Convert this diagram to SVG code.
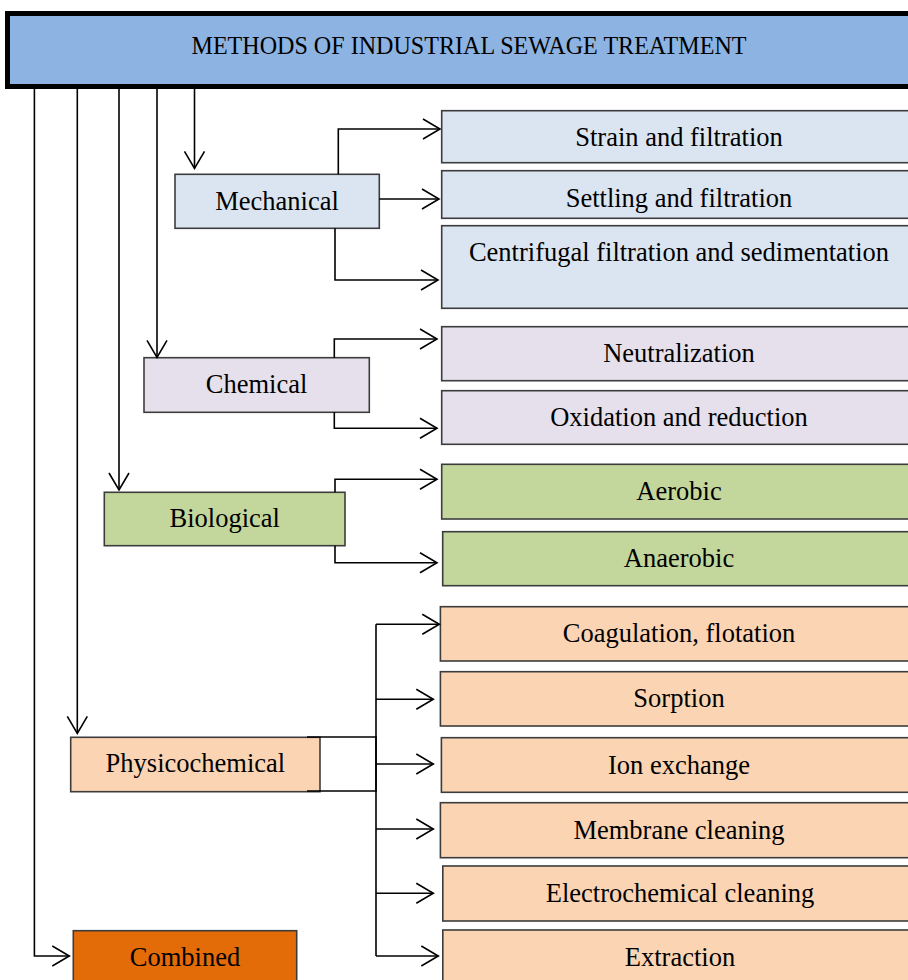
<svg xmlns="http://www.w3.org/2000/svg" width="908" height="980" viewBox="0 0 908 980">
<defs>
<style>
text{font-family:"Liberation Serif","Times New Roman",serif;fill:#000;text-anchor:middle}
.t{font-size:26.5px}
.h{font-size:25.5px}
.box{stroke:#3c3c3c;stroke-width:1.6}
.mech{fill:#DBE5F1}
.chem{fill:#E5E0EC}
.bio{fill:#C3D69B}
.phys{fill:#FBD4B4}
.comb{fill:#E36C09}
.c{fill:none;stroke:#000;stroke-width:1.6}
</style>
<marker id="arr" markerUnits="userSpaceOnUse" markerWidth="40" markerHeight="40" viewBox="-20 -20 40 40" refX="0" refY="0" orient="auto">
<path d="M-17,-10 L0,0 L-17,10" fill="none" stroke="#000" stroke-width="1.6"/>
</marker>
</defs>
<rect width="908" height="980" fill="#fff"/>

<g id="header">
<rect x="7.5" y="13.5" width="950" height="73" fill="#8DB3E2" stroke="#000" stroke-width="5"/>
<text class="h" x="469" y="54" textLength="555" lengthAdjust="spacingAndGlyphs">METHODS OF INDUSTRIAL SEWAGE TREATMENT</text>
</g>

<g id="mechanical">
<rect class="box mech" x="175" y="174.3" width="204.3" height="54"/>
<text class="t" x="277" y="210">Mechanical</text>
</g>
<g id="strain">
<rect class="box mech" x="441.7" y="110.7" width="490" height="52"/>
<text class="t" x="679" y="146">Strain and filtration</text>
</g>
<g id="settling">
<rect class="box mech" x="441.7" y="170.7" width="490" height="47.6"/>
<text class="t" x="679" y="206.5">Settling and filtration</text>
</g>
<g id="centrifugal">
<rect class="box mech" x="441.7" y="225.7" width="490" height="82.6"/>
<text class="t" x="679" y="261">Centrifugal filtration and sedimentation</text>
</g>

<g id="chemical">
<rect class="box chem" x="144" y="357.7" width="225.3" height="54.6"/>
<text class="t" x="256.5" y="393">Chemical</text>
</g>
<g id="neutralization">
<rect class="box chem" x="441.7" y="326.7" width="490" height="54"/>
<text class="t" x="679" y="362">Neutralization</text>
</g>
<g id="oxidation">
<rect class="box chem" x="441.7" y="390.7" width="490" height="53.6"/>
<text class="t" x="679" y="426">Oxidation and reduction</text>
</g>

<g id="biological">
<rect class="box bio" x="104.3" y="492.3" width="240.7" height="53.4"/>
<text class="t" x="224.7" y="527">Biological</text>
</g>
<g id="aerobic">
<rect class="box bio" x="441.7" y="464.3" width="490" height="54.7"/>
<text class="t" x="679" y="500">Aerobic</text>
</g>
<g id="anaerobic">
<rect class="box bio" x="442.7" y="531.7" width="490" height="54"/>
<text class="t" x="679" y="567">Anaerobic</text>
</g>

<g id="physicochemical">
<rect class="box phys" x="70.7" y="737.3" width="249.3" height="54.4"/>
<text class="t" x="195.4" y="772">Physicochemical</text>
</g>
<g id="coagulation">
<rect class="box phys" x="440.4" y="606.7" width="490" height="54.3"/>
<text class="t" x="679" y="642">Coagulation, flotation</text>
</g>
<g id="sorption">
<rect class="box phys" x="440.4" y="671.7" width="490" height="54.3"/>
<text class="t" x="679" y="707">Sorption</text>
</g>
<g id="ionexchange">
<rect class="box phys" x="441.4" y="737.7" width="490" height="54.6"/>
<text class="t" x="679" y="773.5">Ion exchange</text>
</g>
<g id="membrane">
<rect class="box phys" x="440.4" y="802.7" width="490" height="55"/>
<text class="t" x="679" y="838.5">Membrane cleaning</text>
</g>
<g id="electrochemical">
<rect class="box phys" x="442.8" y="866" width="490" height="55"/>
<text class="t" x="680" y="902">Electrochemical cleaning</text>
</g>
<g id="extraction">
<rect class="box phys" x="442.8" y="930" width="490" height="70"/>
<text class="t" x="680" y="965.5">Extraction</text>
</g>

<g id="combined">
<rect class="box comb" x="73.3" y="930.7" width="223.4" height="70"/>
<text class="t" x="185" y="965.5">Combined</text>
</g>

<g id="connectors">
<path class="c" d="M194.5,84 V168.3" marker-end="url(#arr)"/>
<path class="c" d="M157,89 V357.3" marker-end="url(#arr)"/>
<path class="c" d="M119,89 V490" marker-end="url(#arr)"/>
<path class="c" d="M77.3,89 V733.3" marker-end="url(#arr)"/>
<path class="c" d="M34.4,89 V956 H69.3" marker-end="url(#arr)"/>

<path class="c" d="M338.3,174.3 V129 H440" marker-end="url(#arr)"/>
<path class="c" d="M379.3,199 H439" marker-end="url(#arr)"/>
<path class="c" d="M335,228.3 V280 H438" marker-end="url(#arr)"/>

<path class="c" d="M334.3,357.7 V339 H437" marker-end="url(#arr)"/>
<path class="c" d="M334.3,412.3 V428.3 H437" marker-end="url(#arr)"/>

<path class="c" d="M335,492.3 V479.3 H437" marker-end="url(#arr)"/>
<path class="c" d="M335,545.7 V562.7 H437" marker-end="url(#arr)"/>

<path class="c" d="M307,737 H376 V791 H307"/>
<path class="c" d="M376,624.3 V956"/>
<path class="c" d="M376,624.3 H439.3" marker-end="url(#arr)"/>
<path class="c" d="M376,699.3 H433.3" marker-end="url(#arr)"/>
<path class="c" d="M376,764 H433.3" marker-end="url(#arr)"/>
<path class="c" d="M376,829 H433.3" marker-end="url(#arr)"/>
<path class="c" d="M376,893.3 H433.3" marker-end="url(#arr)"/>
<path class="c" d="M376,956 H438.3" marker-end="url(#arr)"/>
</g>
</svg>
